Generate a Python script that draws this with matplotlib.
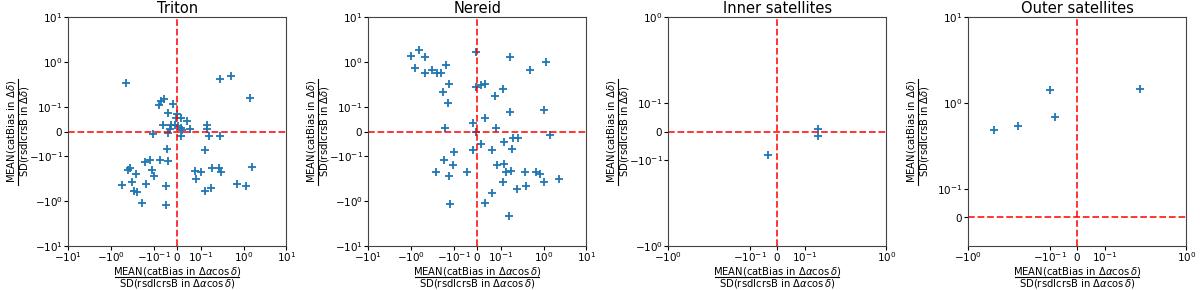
import numpy as np
import matplotlib
matplotlib.use("Agg")
import matplotlib.pyplot as plt
from matplotlib.ticker import NullLocator
from matplotlib.lines import Line2D

titles = ["Triton", "Nereid", "Inner satellites", "Outer satellites"]

triton_x = [-0.445, 0.274, 0.514, 1.38, -0.058, -0.067, -0.079, -0.018, -0.0375, -0.003,
            -0.0056, 0.0139, 0.039, -0.060, -0.026, -0.0097, 0.0042, -0.029, 0.0139, 0.0208,
            0.0556, 0.141, 0.141, -0.102, -0.039, 0.0139, 0.154, 0.279, -0.043, 0.126,
            -0.0736, -0.122, -0.157, -0.0375, -0.359, -0.407, -0.109, -0.255, -0.0986, -0.552,
            -0.316, -0.151, -0.0486, -0.294, -0.246, -0.188, -0.0486, 0.0736, 0.102, 0.184,
            0.264, 0.294, 1.60, 0.079, 0.124, 0.171, 0.698, 1.135]
triton_y = [0.336, 0.427, 0.49, 0.160, 0.152, 0.137, 0.110, 0.116, 0.075, 0.0725,
            0.055, 0.055, 0.0416, 0.0255, 0.0255, 0.0255, 0.0215, 0.0094, 0.0134, 0.0067,
            0.0094, 0.0268, 0.0107, -0.0094, -0.0067, -0.0188, -0.0188, -0.0188, -0.0685, -0.0738,
            -0.120, -0.120, -0.133, -0.126, -0.184, -0.204, -0.201, -0.251, -0.273, -0.435,
            -0.385, -0.413, -0.458, -0.592, -0.624, -1.10, -1.22, -0.211, -0.219, -0.178,
            -0.178, -0.222, -0.175, -0.324, -0.582, -0.499, -0.42, -0.473]

nereid_x = [-0.983, -0.64, -0.456, -0.793, -0.464, -0.319, -0.24, -0.20, -0.151, -0.128,
            -0.177, -0.138, -0.156, -0.0071, -0.0057, 0.0143, 0.034, 0.074, 0.111, 0.165,
            0.49, 1.11, 0.165, 1.02, 0.034, -0.0186, 0.077, -0.0057, 1.43, 0.187,
            0.249, 0.017, 0.117, -0.017, 0.064, 0.177, -0.0986, -0.168, -0.105, 0.084,
            0.12, -0.258, -0.128, -0.044, 0.131, 0.171, 0.361, 0.675, 0.822, 2.31,
            1.0, 0.113, 0.395, 0.231, 0.064, -0.124, 0.033, 0.156]
nereid_y = [1.35, 1.87, 1.31, 0.728, 0.572, 0.656, 0.553, 0.553, 0.864, 0.319,
            0.208, 0.122, 0.0134, 1.66, 0.273, 0.298, 0.324, 0.172, 0.255, 1.31,
            0.679, 1.01, 0.079, 0.087, 0.055, 0.035, 0.0148, -0.0027, -0.016, -0.0255,
            -0.0268, -0.051, -0.0443, -0.075, -0.074, -0.0725, -0.083, -0.118, -0.158, -0.158,
            -0.150, -0.226, -0.273, -0.222, -0.23, -0.211, -0.222, -0.219, -0.255, -0.33,
            -0.379, -0.366, -0.458, -0.525, -0.645, -1.16, -1.08, -2.11]

inner_x = [-0.0327, 0.146, 0.146]
inner_y = [-0.0826, 0.0105, -0.0163]

outer_x = [-0.483, -0.248, -0.101, -0.0824, 0.275]
outer_y = [0.487, 0.542, 1.42, 0.684, 1.46]

xs = [triton_x, nereid_x, inner_x, outer_x]
ys = [triton_y, nereid_y, inner_y, outer_y]

xlims = [(-10, 10), (-10, 10), (-1, 1), (-1, 1)]
ylims = [(-10, 10), (-10, 10), (-1, 1), (-0.1, 10)]
xticks = [[-10, -1, -0.1, 0, 0.1, 1, 10], [-10, -1, -0.1, 0, 0.1, 1, 10],
          [-1, -0.1, 0, 0.1, 1], [-1, -0.1, 0, 0.1, 1]]
yticks = [[-10, -1, -0.1, 0, 0.1, 1, 10], [-10, -1, -0.1, 0, 0.1, 1, 10],
          [-1, -0.1, 0, 0.1, 1], [0, 0.1, 1, 10]]
linscales = [0.5, 0.5, 0.3, 0.3]

xlabel_num = r'MEAN(catBias in $\Delta\alpha\cos\delta$)'
xlabel_den = r'SD(rsdIcrsB in $\Delta\alpha\cos\delta$)'
ylabel_num = r'MEAN(catBias in $\Delta\delta$)'
ylabel_den = r'SD(rsdIcrsB in $\Delta\delta$)'

W, H = 1200, 290
fig = plt.figure(figsize=(12, 2.9), dpi=100)
ax_left_px = [68.3, 368.3, 668.3, 968.3]
ax_w_px, ax_top_px, ax_bot_px = 218.0, 17.3, 245.7
lab_fs = 7.2
for i in range(4):
    L = ax_left_px[i]
    ax = fig.add_axes([L / W, 1 - ax_bot_px / H, ax_w_px / W, (ax_bot_px - ax_top_px) / H])
    ax.set_xscale('symlog', linthresh=0.1, linscale=linscales[i])
    ax.set_yscale('symlog', linthresh=0.1, linscale=linscales[i])
    ax.plot(xs[i], ys[i], '+', color='#1f77b4', markersize=5.5, mew=1.3)
    ax.axvline(0, color='red', ls='--', lw=1.3, alpha=0.85)
    ax.axhline(0, color='red', ls='--', lw=1.3, alpha=0.85)
    ax.set_xlim(*xlims[i])
    ax.set_ylim(*ylims[i])
    ax.set_xticks(xticks[i])
    ax.set_yticks(yticks[i])
    ax.xaxis.set_minor_locator(NullLocator())
    ax.yaxis.set_minor_locator(NullLocator())
    ax.tick_params(labelsize=7.5, length=3, width=0.8, pad=1)
    ax.tick_params(axis='x', pad=0.5)
    ax.set_title(titles[i], fontsize=10.5, pad=3)
    for s in ax.spines.values():
        s.set_linewidth(0.8)
        s.set_color('#444444')

    # x-axis fraction label
    cx = L + ax_w_px / 2
    fig.text(cx / W, 1 - 271 / H, xlabel_num, ha='center', va='center', fontsize=lab_fs)
    fig.text(cx / W, 1 - 283.3 / H, xlabel_den, ha='center', va='center', fontsize=lab_fs)
    fig.add_artist(Line2D([(cx - 62) / W, (cx + 62) / W], [1 - 277.2 / H, 1 - 277.2 / H],
                          transform=fig.transFigure, color='black', lw=0.8))
    # y-axis fraction label
    cy = (ax_top_px + ax_bot_px) / 2
    off = L - 68.3
    fig.text((off + 11.5) / W, 1 - cy / H, ylabel_num, ha='center', va='center',
             rotation=90, fontsize=lab_fs)
    fig.text((off + 24.5) / W, 1 - cy / H, ylabel_den, ha='center', va='center',
             rotation=90, fontsize=lab_fs)
    fig.add_artist(Line2D([(off + 18) / W, (off + 18) / W], [1 - (cy - 53) / H, 1 - (cy + 53) / H],
                          transform=fig.transFigure, color='black', lw=0.8))

fig.savefig('out.png', dpi=100)
